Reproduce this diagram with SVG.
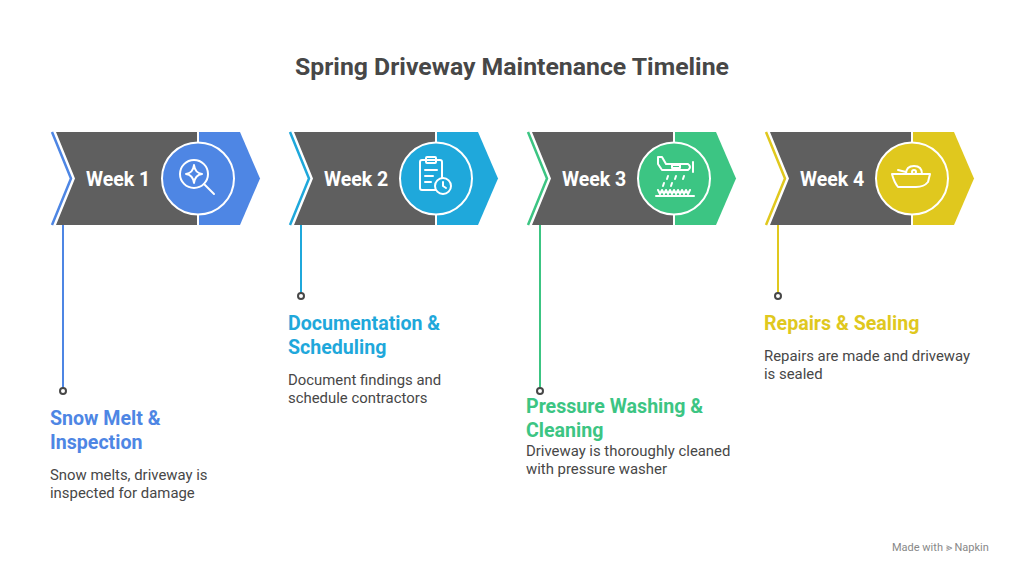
<svg xmlns="http://www.w3.org/2000/svg" width="1024" height="574" viewBox="0 0 1024 574">
<style>
.t{font-family:Roboto,"Liberation Sans",sans-serif}
.title{font-size:24.8px;font-weight:700;fill:#474747}
.wk{font-size:19.5px;font-weight:700;fill:#fff}
.h{font-size:19.6px;font-weight:700}
.d{font-size:14.9px;fill:#474747}
.ic{fill:none;stroke:#fff;stroke-width:2;stroke-linecap:round;stroke-linejoin:round}
</style>
<rect width="1024" height="574" fill="#fff"/>
<text class="t title" x="512" y="75" text-anchor="middle">Spring Driveway Maintenance Timeline</text>
<g id="connectors" stroke-width="2">
<line x1="63" y1="225" x2="63" y2="388" stroke="#4e86e4"/>
<line x1="301" y1="225" x2="301" y2="293" stroke="#1fa8db"/>
<line x1="540" y1="225" x2="540" y2="388" stroke="#3cc583"/>
<line x1="778" y1="225" x2="778" y2="293" stroke="#e0c81e"/>
<g fill="#fff" stroke="#474747"><circle cx="63" cy="391" r="3"/><circle cx="301" cy="296" r="3"/><circle cx="540" cy="391" r="3"/><circle cx="778" cy="296" r="3"/></g>
</g>
<g id="week1" transform="translate(52,132)">
<path d="M146,0 L188,0 L208,46.5 L188,93 L146,93 Z" fill="#4e86e4"/><path d="M4,0 L146,0 L146,93 L4,93 L23,46.5 Z" fill="#5f5f5f"/><path d="M0,0 L19,46.5 L0,93" fill="none" stroke="#4e86e4" stroke-width="2.5"/>
<line x1="146" y1="0" x2="146" y2="93" stroke="#fff" stroke-width="2"/>
<circle cx="146" cy="46.5" r="36" fill="#4e86e4" stroke="#fff" stroke-width="2"/>
<text class="t wk" x="34" y="54">Week 1</text>
<g class="ic"><circle cx="142" cy="42" r="14"/><line x1="152" y1="52" x2="162" y2="62"/><path d="M142,33 Q143,41 150,42 Q143,43 142,51 Q141,43 134,42 Q141,41 142,33Z"/></g>
</g>
<g id="week2" transform="translate(290,132)">
<path d="M146,0 L188,0 L208,46.5 L188,93 L146,93 Z" fill="#1fa8db"/><path d="M4,0 L146,0 L146,93 L4,93 L23,46.5 Z" fill="#5f5f5f"/><path d="M0,0 L19,46.5 L0,93" fill="none" stroke="#1fa8db" stroke-width="2.5"/>
<line x1="146" y1="0" x2="146" y2="93" stroke="#fff" stroke-width="2"/>
<circle cx="146" cy="46.5" r="36" fill="#1fa8db" stroke="#fff" stroke-width="2"/>
<text class="t wk" x="34" y="54">Week 2</text>
<g class="ic"><rect x="130" y="28" width="22" height="30" rx="2"/><rect x="136" y="25" width="10" height="6" rx="1"/><line x1="135" y1="38" x2="147" y2="38"/><line x1="135" y1="44" x2="143" y2="44"/><line x1="135" y1="50" x2="141" y2="50"/><circle cx="153" cy="54" r="8" fill="#1fa8db"/><path d="M153,50 L153,54 L156,56"/></g>
</g>
<g id="week3" transform="translate(528,132)">
<path d="M146,0 L188,0 L208,46.5 L188,93 L146,93 Z" fill="#3cc583"/><path d="M4,0 L146,0 L146,93 L4,93 L23,46.5 Z" fill="#5f5f5f"/><path d="M0,0 L19,46.5 L0,93" fill="none" stroke="#3cc583" stroke-width="2.5"/>
<line x1="146" y1="0" x2="146" y2="93" stroke="#fff" stroke-width="2"/>
<circle cx="146" cy="46.5" r="36" fill="#3cc583" stroke="#fff" stroke-width="2"/>
<text class="t wk" x="34" y="54">Week 3</text>
<g class="ic"><path d="M130,25 L134,25 L138,32 L160,32 Q164,35 160,38 L134,38 L130,32Z"/><rect x="144" y="33" width="8" height="3"/><line x1="165" y1="30" x2="165" y2="40"/><line x1="140" y1="44" x2="139" y2="47"/><line x1="148" y1="44" x2="147" y2="47"/><line x1="156" y1="44" x2="155" y2="47"/><line x1="136" y1="51" x2="135" y2="54"/><line x1="144" y1="51" x2="143" y2="54"/><path d="M130,58 l2,4 l2,-4 l2,4 l2,-4 l2,4 l2,-4 l2,4 l2,-4 l2,4 l2,-4 l2,4 l2,-4 l2,4 l2,-4 l2,4 l2,-4"/><line x1="128" y1="64" x2="166" y2="64"/></g>
</g>
<g id="week4" transform="translate(766,132)">
<path d="M146,0 L188,0 L208,46.5 L188,93 L146,93 Z" fill="#e0c81e"/><path d="M4,0 L146,0 L146,93 L4,93 L23,46.5 Z" fill="#5f5f5f"/><path d="M0,0 L19,46.5 L0,93" fill="none" stroke="#e0c81e" stroke-width="2.5"/>
<line x1="146" y1="0" x2="146" y2="93" stroke="#fff" stroke-width="2"/>
<circle cx="146" cy="46.5" r="36" fill="#e0c81e" stroke="#fff" stroke-width="2"/>
<text class="t wk" x="34" y="54">Week 4</text>
<g class="ic"><path d="M126,42 L164,42 L162,50 Q158,55 150,55 L132,55 Q128,50 126,42Z"/><path d="M140,42 Q140,34 148,34 Q156,34 156,42"/><circle cx="148" cy="40" r="2"/><line x1="132" y1="38" x2="140" y2="40"/></g>
</g>
<g id="text1"><text class="t h" fill="#4e86e4" x="50" y="425">Snow Melt &amp;</text><text class="t h" fill="#4e86e4" x="50" y="449">Inspection</text><text class="t d" x="50" y="480">Snow melts, driveway is</text><text class="t d" x="50" y="498">inspected for damage</text></g>
<g id="text2"><text class="t h" fill="#1fa8db" x="288" y="330">Documentation &amp;</text><text class="t h" fill="#1fa8db" x="288" y="354">Scheduling</text><text class="t d" x="288" y="385">Document findings and</text><text class="t d" x="288" y="403">schedule contractors</text></g>
<g id="text3"><text class="t h" fill="#3cc583" x="526" y="413">Pressure Washing &amp;</text><text class="t h" fill="#3cc583" x="526" y="437">Cleaning</text><text class="t d" x="526" y="456">Driveway is thoroughly cleaned</text><text class="t d" x="526" y="474">with pressure washer</text></g>
<g id="text4"><text class="t h" fill="#e0c81e" x="764" y="330">Repairs &amp; Sealing</text><text class="t d" x="764" y="361">Repairs are made and driveway</text><text class="t d" x="764" y="379">is sealed</text></g>
<text class="t" x="892" y="551" font-size="11" fill="#888">Made with ⪢ Napkin</text>
</svg>
